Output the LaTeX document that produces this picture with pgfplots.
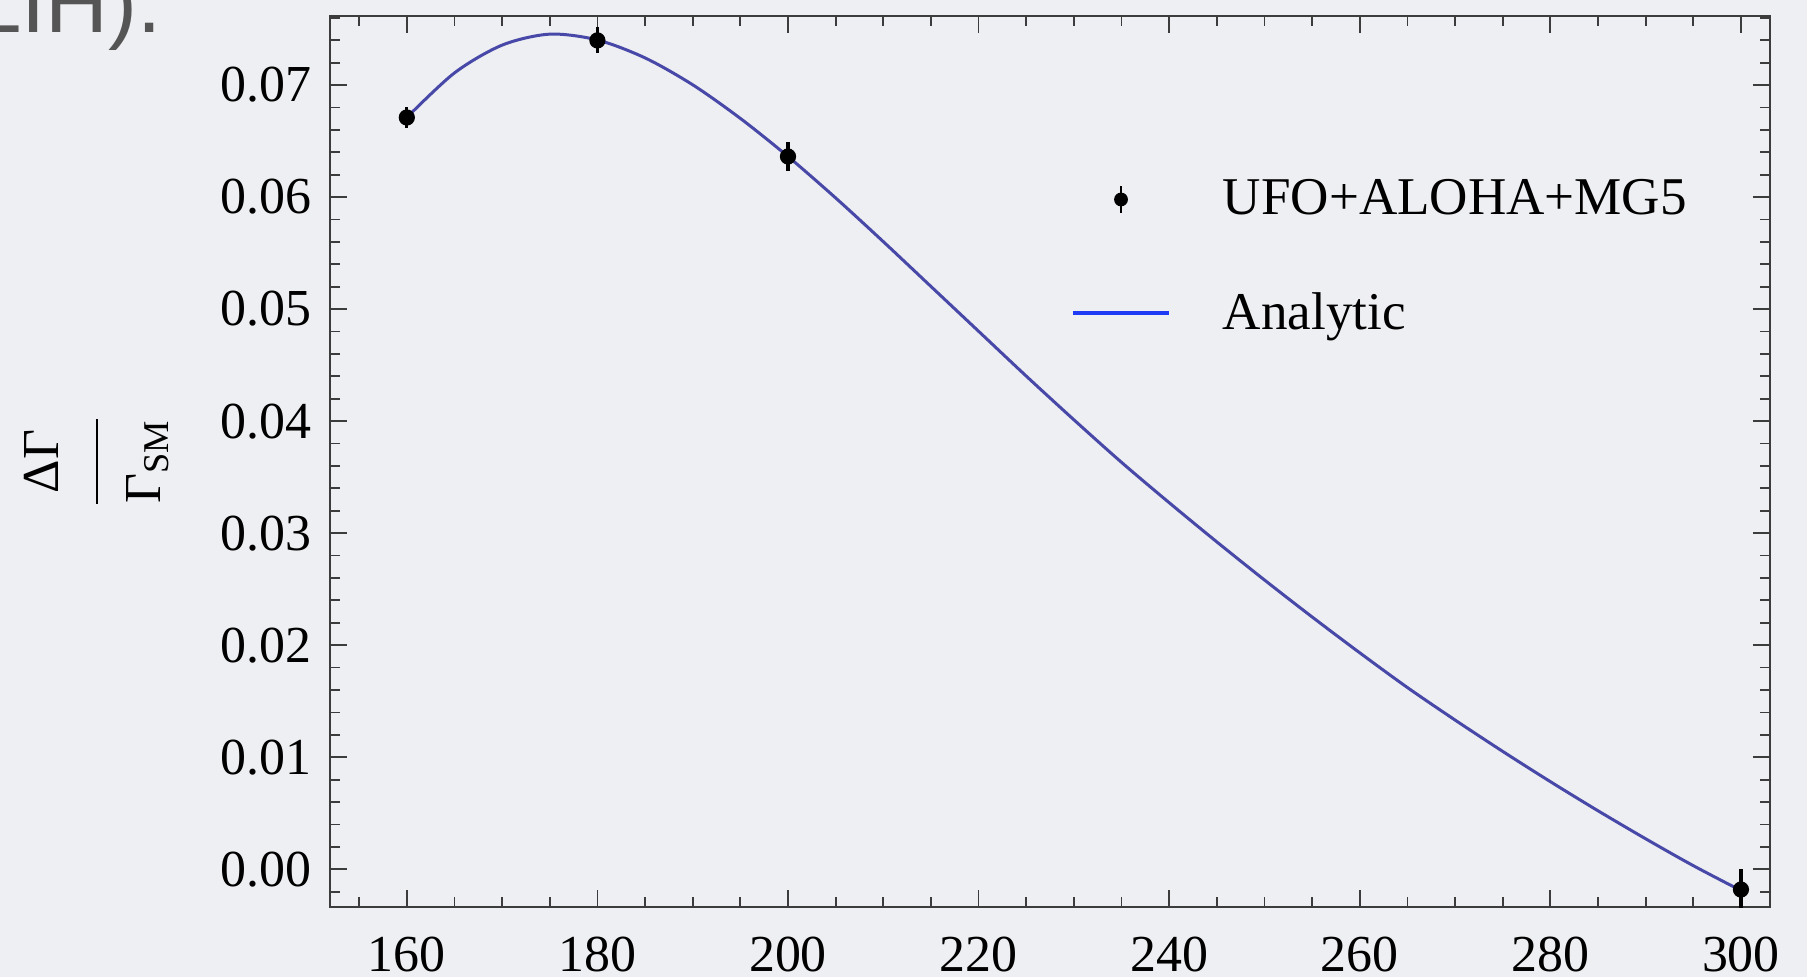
\documentclass[border=0pt]{standalone}
\usepackage{fontspec}
\setmainfont{Liberation Serif}
\newfontfamily\slidefont{Liberation Sans}
\usepackage{amsmath}
\usepackage{pgfplots}
\pgfplotsset{compat=1.18}

\definecolor{bgcol}{RGB}{238,239,242}
\definecolor{curvecol}{RGB}{72,72,168}
\definecolor{legblue}{RGB}{30,60,245}
\definecolor{framecol}{RGB}{60,60,60}
\definecolor{slidegray}{RGB}{85,85,85}

\newcommand{\lbl}{\fontsize{17.3}{20}\selectfont}

\begin{document}
\begin{tikzpicture}
\useasboundingbox (0,0) rectangle (602.33pt,325.67pt);
\fill[bgcol] (0,0) rectangle (602.33pt,325.67pt);
% piece of the slide title behind the plot
\node[anchor=base west, inner sep=0pt, text=slidegray,
      font=\slidefont\fontsize{29}{30}\selectfont] at (-9.2pt,314.67pt) {LIH).};
\begin{axis}[
    at={(110pt,23.33pt)}, anchor=south west,
    scale only axis, width=480pt, height=297pt,
    xmin=151.94, xmax=303.05,
    ymin=-0.00337, ymax=0.07616,
    axis line style={framecol, line width=0.6pt},
    tick style={framecol, line width=0.6pt},
    major tick length=5.67pt, minor tick length=3.33pt,
    tick align=inside,
    xtick={160,180,...,300},
    minor xtick={155,160,...,300},
    ytick={0,0.01,0.02,0.03,0.04,0.05,0.06,0.07},
    minor ytick={-0.002,0,...,0.076},
    scaled y ticks=false,
    tick label style={font=\lbl, /pgf/number format/assume math mode=true},
    yticklabel style={/pgf/number format/fixed,
        /pgf/number format/fixed zerofill, /pgf/number format/precision=2},
    x tick label style={yshift=-6.4pt},
    y tick label style={xshift=-2.7pt},
    label style={font=\lbl},
    ylabel={$\genfrac{}{}{0.7pt}{0}{\text{ΔΓ}\rule[-10.25pt]{0pt}{10.25pt}}{\rule{0pt}{18.85pt}\text{Γ}_{\text{SM}}}$},
    ylabel style={at={(axis description cs:-0.162,0.5)}, anchor=center},
    legend style={draw=none, fill=none, font=\fontsize{17.7}{20}\selectfont,
        at={(rel axis cs:0.5142,0.817)}, anchor=north west,
        inner sep=0pt, row sep=24.4pt, column sep=17.3pt,
        nodes={inner sep=0pt}},
    legend cell align=left,
]
\addplot[curvecol, line width=1pt, smooth, forget plot] coordinates {
    (160,0.0671) (165,0.07108) (170,0.07356) (175,0.07454) (180,0.07402)
    (185,0.07242) (190,0.07002) (195,0.06702) (200,0.06362) (205,0.05992)
    (210,0.05602) (215,0.05202) (220,0.04802) (225,0.04402) (230,0.04012)
    (235,0.03632) (240,0.03272) (245,0.02922) (250,0.02582) (255,0.02252)
    (260,0.01932) (265,0.01622) (270,0.01332) (275,0.01052) (280,0.00782)
    (285,0.00522) (290,0.00272) (295,0.00032) (300,-0.00190)
};
\addplot[only marks, mark=*, mark size=2.5pt, black,
    legend image code/.code={
        \draw[black, line width=0.9pt] (16pt,-4.5pt) -- (16pt,4.5pt);
        \fill[black] (16pt,0pt) circle (2.1pt);},
    error bars/.cd, y dir=both, y explicit,
    error mark=none, error bar style={line width=1.1pt, black}]
coordinates {
    (160,0.0671) +- (0,0.0009)
    (180,0.07398) +- (0,0.00116)
    (200,0.06362) +- (0,0.0013)
    (300,-0.00181) +- (0,0.0018)
};
\addlegendentry{UFO+ALOHA+MG5}
\addlegendimage{legend image code/.code={
    \draw[legblue, line width=1.3pt] (0pt,0pt) -- (32pt,0pt);}}
\addlegendentry{Analytic}
\end{axis}
\end{tikzpicture}
\end{document}
